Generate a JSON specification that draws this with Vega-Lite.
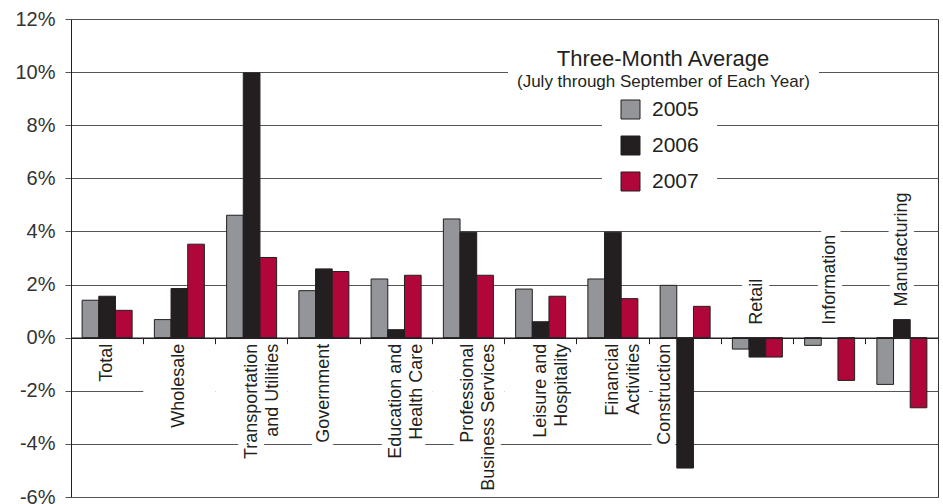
{
  "$schema": "https://vega.github.io/schema/vega-lite/v6.json",
  "width": 867,
  "height": 478,
  "autosize": "none",
  "padding": {"left": 71, "top": 19, "right": 5, "bottom": 7},
  "background": "white",
  "config": {
    "font": "Liberation Sans",
    "view": {"stroke": "#333333", "strokeWidth": 1},
    "legend": {"labelFont": "Liberation Sans", "titleFont": "Liberation Sans"}
  },
  "datasets": {
    "bars": [
      {"category": "Total", "year": "2005", "value": 1.41},
      {"category": "Total", "year": "2006", "value": 1.56},
      {"category": "Total", "year": "2007", "value": 1.03},
      {"category": "Wholesale", "year": "2005", "value": 0.68},
      {"category": "Wholesale", "year": "2006", "value": 1.85},
      {"category": "Wholesale", "year": "2007", "value": 3.52},
      {"category": "Transportation and Utilities", "year": "2005", "value": 4.61},
      {"category": "Transportation and Utilities", "year": "2006", "value": 9.97},
      {"category": "Transportation and Utilities", "year": "2007", "value": 3.02},
      {"category": "Government", "year": "2005", "value": 1.77},
      {"category": "Government", "year": "2006", "value": 2.59},
      {"category": "Government", "year": "2007", "value": 2.49},
      {"category": "Education and Health Care", "year": "2005", "value": 2.21},
      {"category": "Education and Health Care", "year": "2006", "value": 0.30},
      {"category": "Education and Health Care", "year": "2007", "value": 2.35},
      {"category": "Professional Business Services", "year": "2005", "value": 4.47},
      {"category": "Professional Business Services", "year": "2006", "value": 3.97},
      {"category": "Professional Business Services", "year": "2007", "value": 2.35},
      {"category": "Leisure and Hospitality", "year": "2005", "value": 1.83},
      {"category": "Leisure and Hospitality", "year": "2006", "value": 0.60},
      {"category": "Leisure and Hospitality", "year": "2007", "value": 1.56},
      {"category": "Financial Activities", "year": "2005", "value": 2.21},
      {"category": "Financial Activities", "year": "2006", "value": 3.97},
      {"category": "Financial Activities", "year": "2007", "value": 1.47},
      {"category": "Construction", "year": "2005", "value": 1.97},
      {"category": "Construction", "year": "2006", "value": -4.91},
      {"category": "Construction", "year": "2007", "value": 1.18},
      {"category": "Retail", "year": "2005", "value": -0.43},
      {"category": "Retail", "year": "2006", "value": -0.73},
      {"category": "Retail", "year": "2007", "value": -0.73},
      {"category": "Information", "year": "2005", "value": -0.29},
      {"category": "Information", "year": "2007", "value": -1.61},
      {"category": "Manufacturing", "year": "2005", "value": -1.76},
      {"category": "Manufacturing", "year": "2006", "value": 0.68},
      {"category": "Manufacturing", "year": "2007", "value": -2.64}
    ],
    "labels": [
      {"category": "Total", "lines": ["Total"]},
      {"category": "Wholesale", "lines": ["Wholesale"]},
      {"category": "Transportation and Utilities", "lines": ["Transportation", "and Utilities"]},
      {"category": "Government", "lines": ["Government"]},
      {"category": "Education and Health Care", "lines": ["Education and", "Health Care"]},
      {"category": "Professional Business Services", "lines": ["Professional", "Business Services"]},
      {"category": "Leisure and Hospitality", "lines": ["Leisure and", "Hospitality"]},
      {"category": "Financial Activities", "lines": ["Financial", "Activities"]},
      {"category": "Construction", "lines": ["Construction"]},
      {"category": "Retail", "lines": ["Retail"]},
      {"category": "Information", "lines": ["Information"]},
      {"category": "Manufacturing", "lines": ["Manufacturing"]}
    ]
  },
  "encoding": {
    "x": {
      "field": "category",
      "type": "nominal",
      "scale": {
        "domain": ["Total", "Wholesale", "Transportation and Utilities", "Government", "Education and Health Care", "Professional Business Services", "Leisure and Hospitality", "Financial Activities", "Construction", "Retail", "Information", "Manufacturing"],
        "paddingInner": 0,
        "paddingOuter": 0
      },
      "axis": {
        "orient": "bottom",
        "labels": false,
        "title": null,
        "grid": false,
        "ticks": true,
        "tickSize": 6,
        "tickColor": "#231f20",
        "bandPosition": 0,
        "domainColor": "#231f20",
        "domainWidth": 1.5,
        "offset": {"expr": "scale('y', 0) - height"},
        "zindex": 1
      }
    }
  },
  "layer": [
    {
      "data": {"name": "labels"},
      "transform": [
        {"filter": "indexof(['Wholesale','Transportation and Utilities','Government','Education and Health Care','Professional Business Services','Leisure and Hospitality','Financial Activities'], datum.category) >= 0"}
      ],
      "mark": {"type": "bar", "color": "white"},
      "encoding": {
        "y": {"datum": -2.3, "type": "quantitative", "scale": {"domain": [-6, 12], "nice": false, "zero": false},
          "axis": {"values": [-6, -4, -2, 0, 2, 4, 6, 8, 10, 12], "labelExpr": "datum.value + '%'", "title": null, "grid": true, "gridColor": "#555555", "gridWidth": 1, "domainColor": "#231f20", "tickColor": "#555555", "tickSize": 6, "labelPadding": 10, "labelFontSize": 20, "labelColor": "#333333", "labelFont": "Liberation Sans"}},
        "y2": {"datum": -1.7},
        "strokeDash": {
          "datum": "(July through September of Each Year)",
          "type": "nominal",
          "legend": {
            "orient": "none",
            "legendX": 437,
            "legendY": 22,
            "zindex": 2,
            "title": "Three-Month Average",
            "titleFontSize": 22,
            "titleFontWeight": "normal",
            "titleColor": "#231f20",
            "titleAnchor": "middle",
            "titlePadding": 2,
            "titleLimit": 500,
            "labelFontSize": 17,
            "labelColor": "#231f20",
            "labelOffset": -16,
            "labelLimit": 500,
            "symbolSize": 0,
            "symbolOpacity": 0,
            "symbolStrokeWidth": 0,
            "padding": 8,
            "fillColor": "white"
          }
        }
      }
    },
    {
      "data": {"name": "labels"},
      "transform": [{"filter": "indexof(['Retail','Information','Manufacturing','Construction'], datum.category) < 0"}],
      "mark": {"type": "text", "angle": 270, "align": "right", "baseline": "middle", "dx": -6, "fontSize": 18, "lineHeight": 21, "fill": "white", "stroke": "white", "strokeWidth": 14, "strokeJoin": "round"},
      "encoding": {
        "y": {"datum": 0, "type": "quantitative", "scale": {"domain": [-6, 12], "nice": false, "zero": false},
          "axis": {"values": [-6, -4, -2, 0, 2, 4, 6, 8, 10, 12], "labelExpr": "datum.value + '%'", "title": null, "grid": true, "gridColor": "#555555", "gridWidth": 1, "domainColor": "#231f20", "tickColor": "#555555", "tickSize": 6, "labelPadding": 10, "labelFontSize": 20, "labelColor": "#333333", "labelFont": "Liberation Sans"}},
        "text": {"field": "lines"}
      }
    },
    {
      "data": {"name": "labels"},
      "transform": [{"filter": "datum.category == 'Construction'"}],
      "mark": {"type": "text", "angle": 270, "align": "right", "baseline": "middle", "dx": -6, "dy": -20, "fontSize": 18, "lineHeight": 21, "fill": "white", "stroke": "white", "strokeWidth": 14, "strokeJoin": "round"},
      "encoding": {
        "y": {"datum": 0, "type": "quantitative", "scale": {"domain": [-6, 12], "nice": false, "zero": false},
          "axis": {"values": [-6, -4, -2, 0, 2, 4, 6, 8, 10, 12], "labelExpr": "datum.value + '%'", "title": null, "grid": true, "gridColor": "#555555", "gridWidth": 1, "domainColor": "#231f20", "tickColor": "#555555", "tickSize": 6, "labelPadding": 10, "labelFontSize": 20, "labelColor": "#333333", "labelFont": "Liberation Sans"}},
        "text": {"field": "lines"}
      }
    },
    {
      "data": {"name": "bars"},
      "transform": [
        {"joinaggregate": [{"op": "max", "field": "value", "as": "top"}], "groupby": ["category"]},
        {"filter": "datum.year == '2005'"},
        {"filter": "indexof(['Retail','Information','Manufacturing'], datum.category) >= 0"},
        {"lookup": "category", "from": {"data": {"name": "labels"}, "key": "category", "fields": ["lines"]}},
        {"calculate": "max(datum.top, 0)", "as": "anchor"}
      ],
      "mark": {"type": "text", "angle": 270, "align": "left", "baseline": "middle", "dx": 13, "fontSize": 18, "lineHeight": 21, "fill": "white", "stroke": "white", "strokeWidth": 14, "strokeJoin": "round"},
      "encoding": {
        "y": {"field": "anchor", "type": "quantitative", "scale": {"domain": [-6, 12], "nice": false, "zero": false},
          "axis": {"values": [-6, -4, -2, 0, 2, 4, 6, 8, 10, 12], "labelExpr": "datum.value + '%'", "title": null, "grid": true, "gridColor": "#555555", "gridWidth": 1, "domainColor": "#231f20", "tickColor": "#555555", "tickSize": 6, "labelPadding": 10, "labelFontSize": 20, "labelColor": "#333333", "labelFont": "Liberation Sans"}},
        "text": {"field": "lines"}
      }
    },
    {
      "data": {"name": "bars"},
      "mark": {"type": "bar", "stroke": "#231f20", "strokeWidth": 1},
      "encoding": {
        "xOffset": {"field": "year", "type": "nominal", "scale": {"paddingInner": 0, "paddingOuter": 0.667}},
        "y": {"field": "value", "type": "quantitative", "scale": {"domain": [-6, 12], "nice": false, "zero": false},
          "axis": {"values": [-6, -4, -2, 0, 2, 4, 6, 8, 10, 12], "labelExpr": "datum.value + '%'", "title": null, "grid": true, "gridColor": "#555555", "gridWidth": 1, "domainColor": "#231f20", "tickColor": "#555555", "tickSize": 6, "labelPadding": 10, "labelFontSize": 20, "labelColor": "#333333", "labelFont": "Liberation Sans"}},
        "color": {
          "field": "year",
          "type": "nominal",
          "scale": {"domain": ["2005", "2006", "2007"], "range": ["#939598", "#231f20", "#b1063a"]},
          "legend": {
            "orient": "none",
            "legendX": 531,
            "legendY": 62,
            "zindex": 1,
            "title": null,
            "direction": "vertical",
            "symbolType": "square",
            "symbolSize": 361,
            "symbolStrokeColor": "#231f20",
            "symbolStrokeWidth": 1,
            "labelFontSize": 21,
            "labelColor": "#231f20",
            "labelOffset": 11,
            "rowPadding": 13,
            "padding": 18,
            "fillColor": "white"
          }
        }
      }
    },
    {
      "data": {"name": "labels"},
      "transform": [{"filter": "indexof(['Retail','Information','Manufacturing','Construction'], datum.category) < 0"}],
      "mark": {"type": "text", "angle": 270, "align": "right", "baseline": "middle", "dx": -6, "fontSize": 18, "lineHeight": 21, "color": "#231f20"},
      "encoding": {
        "y": {"datum": 0, "type": "quantitative", "scale": {"domain": [-6, 12], "nice": false, "zero": false},
          "axis": {"values": [-6, -4, -2, 0, 2, 4, 6, 8, 10, 12], "labelExpr": "datum.value + '%'", "title": null, "grid": true, "gridColor": "#555555", "gridWidth": 1, "domainColor": "#231f20", "tickColor": "#555555", "tickSize": 6, "labelPadding": 10, "labelFontSize": 20, "labelColor": "#333333", "labelFont": "Liberation Sans"}},
        "text": {"field": "lines"}
      }
    },
    {
      "data": {"name": "labels"},
      "transform": [{"filter": "datum.category == 'Construction'"}],
      "mark": {"type": "text", "angle": 270, "align": "right", "baseline": "middle", "dx": -6, "dy": -20, "fontSize": 18, "lineHeight": 21, "color": "#231f20"},
      "encoding": {
        "y": {"datum": 0, "type": "quantitative", "scale": {"domain": [-6, 12], "nice": false, "zero": false},
          "axis": {"values": [-6, -4, -2, 0, 2, 4, 6, 8, 10, 12], "labelExpr": "datum.value + '%'", "title": null, "grid": true, "gridColor": "#555555", "gridWidth": 1, "domainColor": "#231f20", "tickColor": "#555555", "tickSize": 6, "labelPadding": 10, "labelFontSize": 20, "labelColor": "#333333", "labelFont": "Liberation Sans"}},
        "text": {"field": "lines"}
      }
    },
    {
      "data": {"name": "bars"},
      "transform": [
        {"joinaggregate": [{"op": "max", "field": "value", "as": "top"}], "groupby": ["category"]},
        {"filter": "datum.year == '2005'"},
        {"filter": "indexof(['Retail','Information','Manufacturing'], datum.category) >= 0"},
        {"lookup": "category", "from": {"data": {"name": "labels"}, "key": "category", "fields": ["lines"]}},
        {"calculate": "max(datum.top, 0)", "as": "anchor"}
      ],
      "mark": {"type": "text", "angle": 270, "align": "left", "baseline": "middle", "dx": 13, "fontSize": 18, "lineHeight": 21, "color": "#231f20"},
      "encoding": {
        "y": {"field": "anchor", "type": "quantitative", "scale": {"domain": [-6, 12], "nice": false, "zero": false},
          "axis": {"values": [-6, -4, -2, 0, 2, 4, 6, 8, 10, 12], "labelExpr": "datum.value + '%'", "title": null, "grid": true, "gridColor": "#555555", "gridWidth": 1, "domainColor": "#231f20", "tickColor": "#555555", "tickSize": 6, "labelPadding": 10, "labelFontSize": 20, "labelColor": "#333333", "labelFont": "Liberation Sans"}},
        "text": {"field": "lines"}
      }
    }
  ]
}
